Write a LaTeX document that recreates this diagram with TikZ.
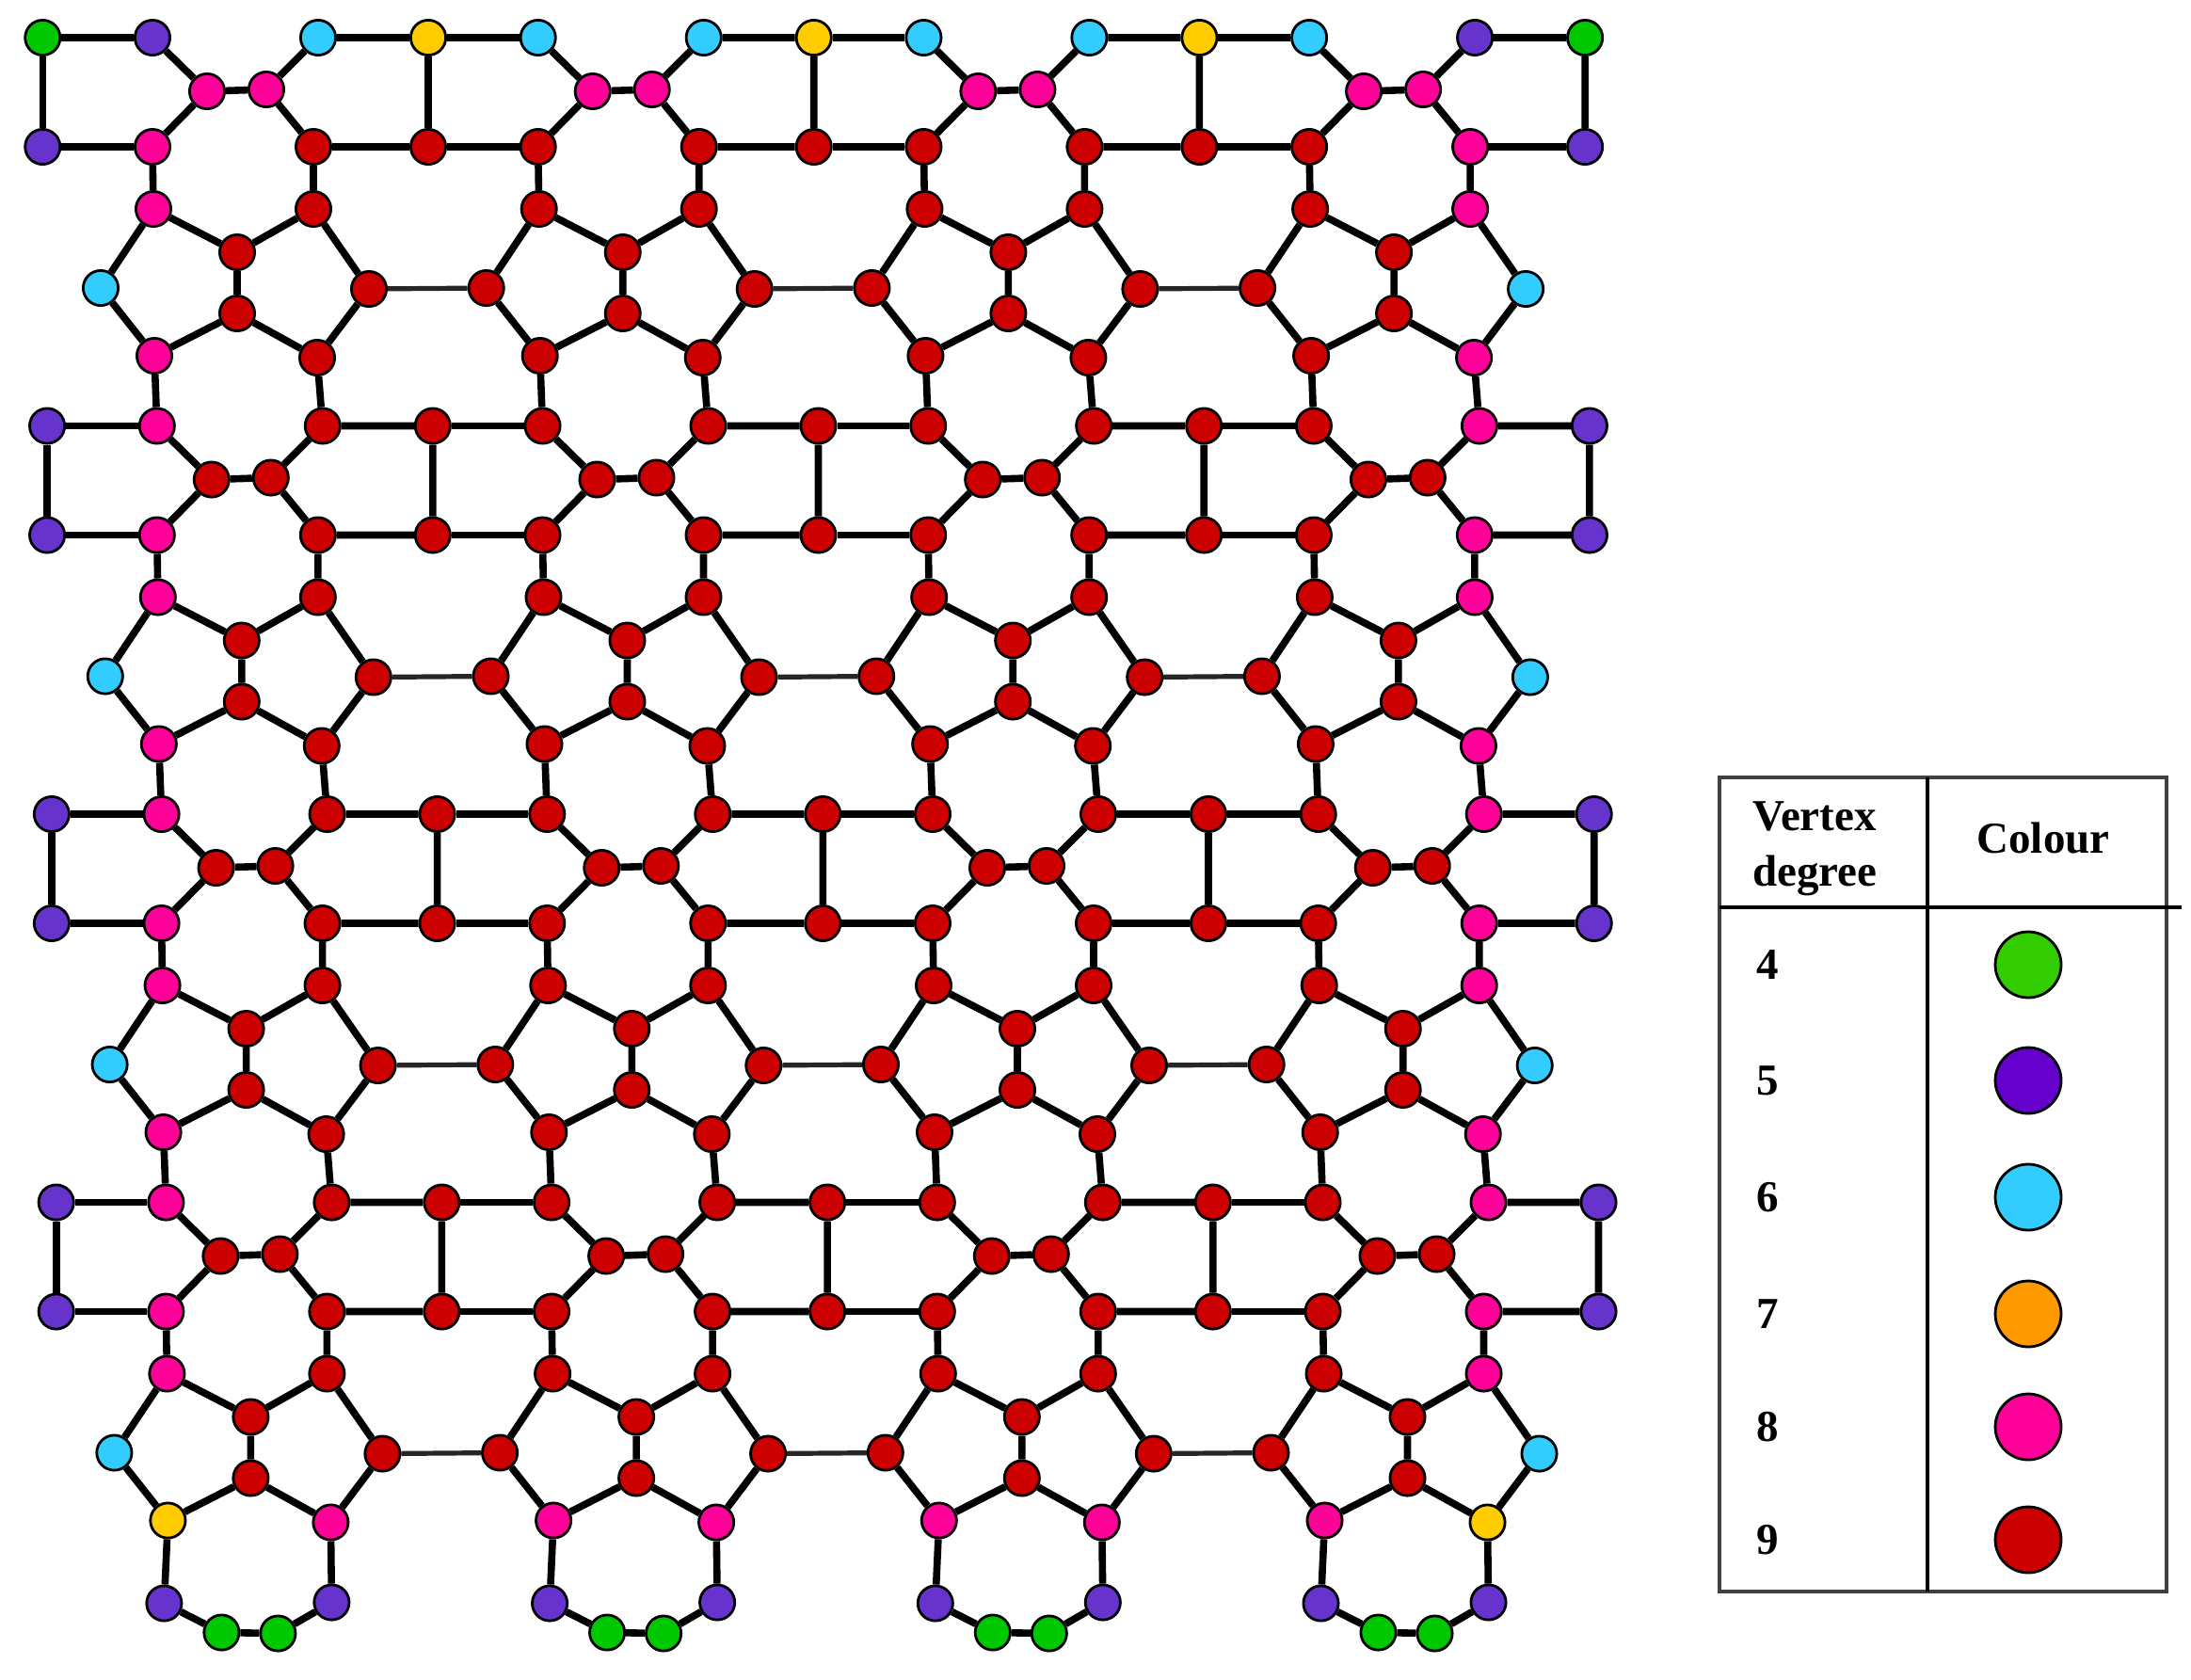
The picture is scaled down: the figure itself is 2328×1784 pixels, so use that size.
\documentclass[tikz,border=0pt]{standalone}
\usepackage{fontspec}
\setmainfont{Liberation Serif}
\pgfdeclarelayer{bg}
\pgfsetlayers{bg,main}
\definecolor{vgreen}{HTML}{00C800}
\definecolor{vpur}{HTML}{6633CC}
\definecolor{vcyan}{HTML}{33CCFF}
\definecolor{vyel}{HTML}{FFCC00}
\definecolor{vpink}{HTML}{FF0099}
\definecolor{vred}{HTML}{CC0000}
\definecolor{lgreen}{HTML}{33CC00}
\definecolor{lpur}{HTML}{6600CC}
\definecolor{lorange}{HTML}{FF9900}
\begin{document}
\begin{tikzpicture}[x=0.5pt,y=-0.5pt,
  v/.style={circle,draw=black,line width=1.4pt,minimum size=18.6pt,inner sep=0pt},
  e/.style={line width=3.8pt},
  ethin/.style={line width=2.6pt,draw=black!85},
  lv/.style={circle,draw=black,line width=1.4pt,minimum size=35pt,inner sep=0pt},
  ltxt/.style={font=\fontsize{23.5}{29.5}\selectfont\bfseries,inner sep=0pt}]
\useasboundingbox (0,0) rectangle (2328,1784);
% ---- repeating cells
\foreach \c in {0,1,2,3}{
\foreach \r in {0,1,2,3}{
\pgfmathsetmacro\X{162+409.7*\c+4.8*\r}
\pgfmathsetmacro\Y{156+412.5*\r}
\ifnum\r=0
  \ifnum\c=0 \def\cA{vpur}\else\def\cA{vcyan}\fi
  \def\cB{vpink}
  \ifnum\c=3 \def\cD{vpur}\def\cE{vgreen}\else\def\cD{vcyan}\def\cE{vyel}\fi
\else
  \ifnum\c=0 \def\cA{vpink}\else\def\cA{vred}\fi
  \def\cB{vred}
  \ifnum\c=3 \def\cD{vpink}\def\cE{vpur}\else\def\cD{vred}\def\cE{vred}\fi
\fi
\ifnum\c=0 \def\cF{vpink}\def\cI{vpink}\def\cL{vcyan}\else\def\cF{vred}\def\cI{vred}\def\cL{vred}\fi
\ifnum\c=3 \def\cG{vpink}\def\cH{vpur}\def\cJ{vpink}\def\cM{vcyan}\else\def\cG{vred}\def\cH{vred}\def\cJ{vred}\def\cM{vred}\fi
\ifnum\r=3
  \ifnum\c=0 \def\cO{vyel}\else\def\cO{vpink}\fi
  \ifnum\c=3 \def\cP{vyel}\else\def\cP{vpink}\fi
\else
  \ifnum\c=0 \def\cO{vpink}\else\def\cO{vred}\fi
  \ifnum\c=3 \def\cP{vpink}\else\def\cP{vred}\fi
\fi
\node[v,fill=\cA] (A\c-\r) at ({\X},{\Y-116}) {};
\node[v,fill=\cB] (B\c-\r) at ({\X+58},{\Y-59}) {};
\node[v,fill=\cB] (C\c-\r) at ({\X+121},{\Y-61}) {};
\node[v,fill=\cD] (D\c-\r) at ({\X+176},{\Y-116}) {};
\node[v,fill=\cE] (E\c-\r) at ({\X+293},{\Y-116}) {};
\node[v,fill=\cF] (F\c-\r) at ({\X},{\Y}) {};
\node[v,fill=\cG] (G\c-\r) at ({\X+171},{\Y}) {};
\node[v,fill=\cH] (H\c-\r) at ({\X+293},{\Y}) {};
\node[v,fill=\cI] (I\c-\r) at ({\X+1},{\Y+66}) {};
\node[v,fill=\cJ] (J\c-\r) at ({\X+171},{\Y+66}) {};
\node[v,fill=vred] (K\c-\r) at ({\X+90},{\Y+112}) {};
\node[v,fill=\cL] (L\c-\r) at ({\X-55},{\Y+150}) {};
\node[v,fill=\cM] (M\c-\r) at ({\X+230},{\Y+151}) {};
\node[v,fill=vred] (N\c-\r) at ({\X+90},{\Y+177}) {};
\node[v,fill=\cO] (O\c-\r) at ({\X+2},{\Y+222}) {};
\node[v,fill=\cP] (P\c-\r) at ({\X+175},{\Y+224}) {};
}}
% ---- bottom hexagons
\foreach \c in {0,1,2,3}{
\pgfmathsetmacro\X{162+409.7*\c+14.4}
\pgfmathsetmacro\Y{156+412.5*3}
\node[v,fill=vpur] (bl\c) at ({\X-2},{\Y+310}) {};
\node[v,fill=vgreen] (ga\c) at ({\X+59},{\Y+341}) {};
\node[v,fill=vgreen] (gb\c) at ({\X+119},{\Y+342}) {};
\node[v,fill=vpur] (br\c) at ({\X+176},{\Y+309}) {};
}
% ---- west column
\foreach \r in {0,1,2,3}{
\pgfmathsetmacro\X{162-116.7+4.8*\r}
\pgfmathsetmacro\Y{156+412.5*\r}
\ifnum\r=0 \def\cW{vgreen}\else\def\cW{vpur}\fi
\node[v,fill=\cW] (Ew\r) at ({\X},{\Y-116}) {};
\node[v,fill=vpur] (Hw\r) at ({\X},{\Y}) {};
}
% ---- edges
\begin{pgfonlayer}{bg}
\foreach \c in {0,1,2,3}{
\foreach \r in {0,1,2,3}{
\pgfmathtruncatemacro\cn{\c+1}
\pgfmathtruncatemacro\rn{\r+1}
\draw[e] (A\c-\r)--(B\c-\r)--(C\c-\r)--(D\c-\r)--(E\c-\r)--(H\c-\r)--(G\c-\r)--(C\c-\r);
\draw[e] (B\c-\r)--(F\c-\r)--(I\c-\r)--(L\c-\r)--(O\c-\r)--(N\c-\r)--(P\c-\r)--(M\c-\r)--(J\c-\r)--(G\c-\r);
\draw[e] (I\c-\r)--(K\c-\r)--(J\c-\r) (K\c-\r)--(N\c-\r);
\ifnum\c<3
  \draw[e] (E\c-\r)--(A\cn-\r) (H\c-\r)--(F\cn-\r);
  \draw[ethin] (M\c-\r)--(L\cn-\r);
\fi
\ifnum\r<3
  \draw[e] (O\c-\r)--(A\c-\rn) (P\c-\r)--(D\c-\rn);
\else
  \draw[e] (O\c-\r)--(bl\c)--(ga\c)--(gb\c)--(br\c)--(P\c-\r);
\fi
}}
\foreach \r in {0,1,2,3}{\draw[e] (A0-\r)--(Ew\r)--(Hw\r)--(F0-\r);}
\end{pgfonlayer}
% ---- legend
\draw[line width=1.6pt,black!75] (1827,826) rectangle (2302,1691);
\draw[line width=1.6pt] (1827,964) -- (2318,964);
\draw[line width=2pt] (2048,826) -- (2048,1691);
\node[ltxt,anchor=north west,align=left] (hdeg) at (1862,851) {Vertex\\degree};
\node[ltxt] (hcol) at (2171,890) {Colour};
\foreach \d/\col/\yy in {4/lgreen/1025,5/lpur/1148,6/vcyan/1272,7/lorange/1396,8/vpink/1516,9/vred/1636}{
  \node[ltxt] (n\d) at (1878,\yy) {\d};
  \node[lv,fill=\col] (k\d) at (2155,\yy) {};
}
\end{tikzpicture}
\end{document}
